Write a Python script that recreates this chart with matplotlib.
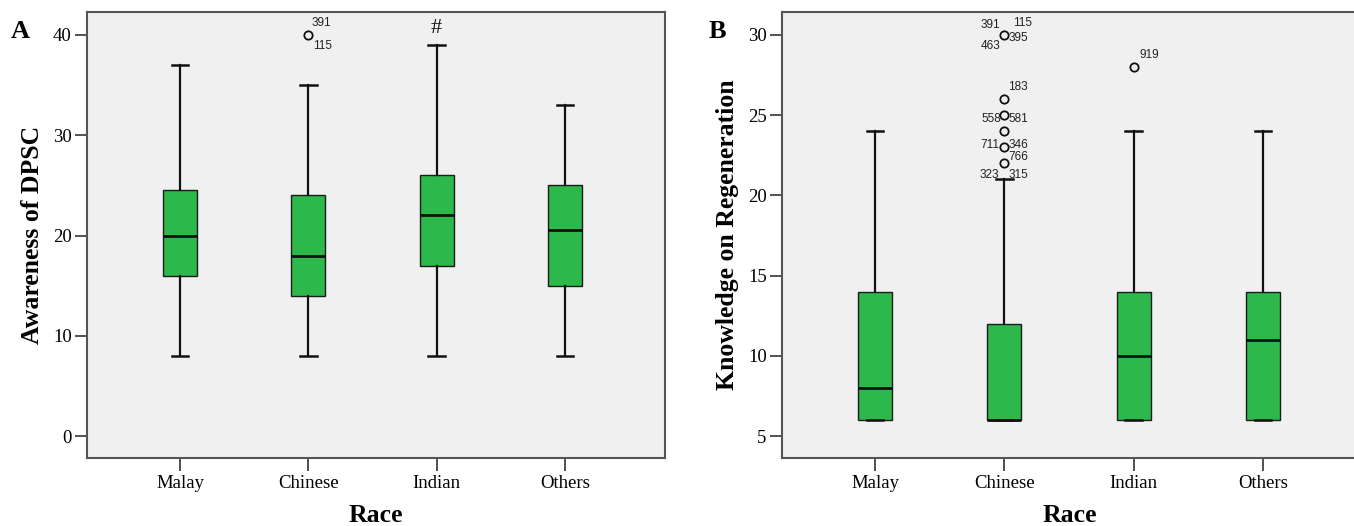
import matplotlib
matplotlib.use("Agg")
import matplotlib.pyplot as plt

# ---------------- data ----------------
races = ["Malay", "Chinese", "Indian", "Others"]

# Panel A: Awareness of DPSC
a_whislo = [8, 8, 8, 8]
a_q1 = [16, 14, 17, 15]
a_med = [20, 18, 22, 20.5]
a_q3 = [24.5, 24, 26, 25]
a_whishi = [37, 35, 39, 33]
a_outlier_vals = [[], [40], [], []]
a_outlier_labels = [("Chinese", 40, "391"), ("Chinese", 40, "115")]
a_ticks = [0, 10, 20, 30, 40]

# Panel B: Knowledge on Regeneration
b_whislo = [6, 6, 6, 6]
b_q1 = [6, 6, 6, 6]
b_med = [8, 6, 10, 11]
b_q3 = [14, 12, 14, 14]
b_whishi = [24, 21, 24, 24]
b_outlier_vals = [[], [30, 26, 25, 24, 23, 22], [28], []]
b_outlier_labels = [
    ("Chinese", 30, "391"), ("Chinese", 30, "115"), ("Chinese", 30, "395"),
    ("Chinese", 30, "463"), ("Chinese", 26, "183"), ("Chinese", 25, "558"),
    ("Chinese", 25, "581"), ("Chinese", 23, "711"), ("Chinese", 23, "346"),
    ("Chinese", 22, "766"), ("Chinese", 21, "323"), ("Chinese", 21, "315"),
    ("Indian", 28, "919"),
]
b_ticks = [5, 10, 15, 20, 25, 30]

# label offsets (pixels) -- style only
a_label_offsets = [(13, 12), (14, -11)]
b_label_offsets = [(-14, 10), (18, 12), (14, -3), (-14, -11), (14, 12),
                   (-13, -4), (14, -4), (-14, 2), (14, 2), (14, 6),
                   (-15, 4), (14, 4), (16, 12)]

# ---------------- style ----------------
GREEN = "#2DB84B"
BG = "#F0F0F0"
SERIF = "Liberation Serif"
SANS = "Liberation Sans"

fig = plt.figure(figsize=(13.54, 5.26), dpi=100)
W, H = 1354, 526


def px_axes(l, t, r, b):
    return fig.add_axes([l / W, 1 - b / H, (r - l) / W, (b - t) / H])


def draw_panel(ax, whislo, q1, med, q3, whishi, outs, labels, offsets,
               ticks, ylim, xlim, ylabel, letter, letter_xy):
    stats = []
    for i in range(len(races)):
        stats.append(dict(whislo=whislo[i], q1=q1[i], med=med[i], q3=q3[i],
                          whishi=whishi[i], fliers=outs[i], label=races[i]))
    pos = list(range(1, len(races) + 1))
    ax.bxp(stats, positions=pos, widths=0.265, capwidths=0.13,
           patch_artist=True, showfliers=True,
           boxprops=dict(facecolor=GREEN, edgecolor="#1a1a1a", linewidth=1.0),
           medianprops=dict(color="#111111", linewidth=2.0),
           whiskerprops=dict(color="#111111", linewidth=1.6),
           capprops=dict(color="#111111", linewidth=1.8),
           flierprops=dict(marker="o", markerfacecolor="none",
                           markeredgecolor="#111111", markersize=6,
                           markeredgewidth=1.3))
    ax.set_facecolor(BG)
    ax.set_xlim(*xlim)
    ax.set_ylim(*ylim)
    ax.set_yticks(ticks)
    ax.set_yticklabels([str(t) for t in ticks])
    ax.set_xticks(pos)
    ax.set_xticklabels(races)
    for lab in ax.get_xticklabels() + ax.get_yticklabels():
        lab.set_fontfamily(SERIF)
        lab.set_fontsize(13.5)
    ax.tick_params(axis="y", direction="out", length=9, width=1.2, pad=2,
                   color="#333333")
    ax.tick_params(axis="x", direction="out", length=9.5, width=1.2, pad=3,
                   color="#333333")
    for sp in ax.spines.values():
        sp.set_color("#555555")
        sp.set_linewidth(1.5)
    ax.set_ylabel(ylabel, fontfamily=SERIF, fontsize=18.5, fontweight="bold")
    ax.yaxis.label.set_verticalalignment("center")
    ax.yaxis.set_label_coords(-0.095, 0.5)
    ax.set_xlabel("Race", fontfamily=SERIF, fontsize=18.5, fontweight="bold")
    ax.xaxis.label.set_verticalalignment("center")
    ax.xaxis.set_label_coords(0.5, -0.128)
    for (cat, val, txt), (dx, dy) in zip(labels, offsets):
        ax.annotate(txt, xy=(races.index(cat) + 1, val), xytext=(dx, dy),
                    textcoords="offset pixels", ha="center", va="center",
                    fontfamily=SANS, fontsize=8.5, color="#222222")
    fig.text(letter_xy[0] / W, 1 - letter_xy[1] / H, letter,
             fontfamily=SERIF, fontsize=19, fontweight="bold",
             ha="center", va="center")


axA = px_axes(87, 12, 665, 458)
draw_panel(axA, a_whislo, a_q1, a_med, a_q3, a_whishi, a_outlier_vals,
           a_outlier_labels, a_label_offsets, a_ticks, (-2.19, 42.29),
           (0.275, 4.78), "Awareness of DPSC", "A", (20, 31))
axA.annotate("#", xy=(races.index("Indian") + 1, a_whishi[2]), xytext=(0, 16),
             textcoords="offset pixels", ha="center", va="center",
             fontfamily=SERIF, fontsize=16, color="#111111")

axB = px_axes(782, 12, 1357, 458)
draw_panel(axB, b_whislo, b_q1, b_med, b_q3, b_whishi, b_outlier_vals,
           b_outlier_labels, b_label_offsets, b_ticks, (3.63, 31.43),
           (0.281, 4.727), "Knowledge on Regeneration", "B", (717, 31))

fig.savefig("out.png", dpi=100)
